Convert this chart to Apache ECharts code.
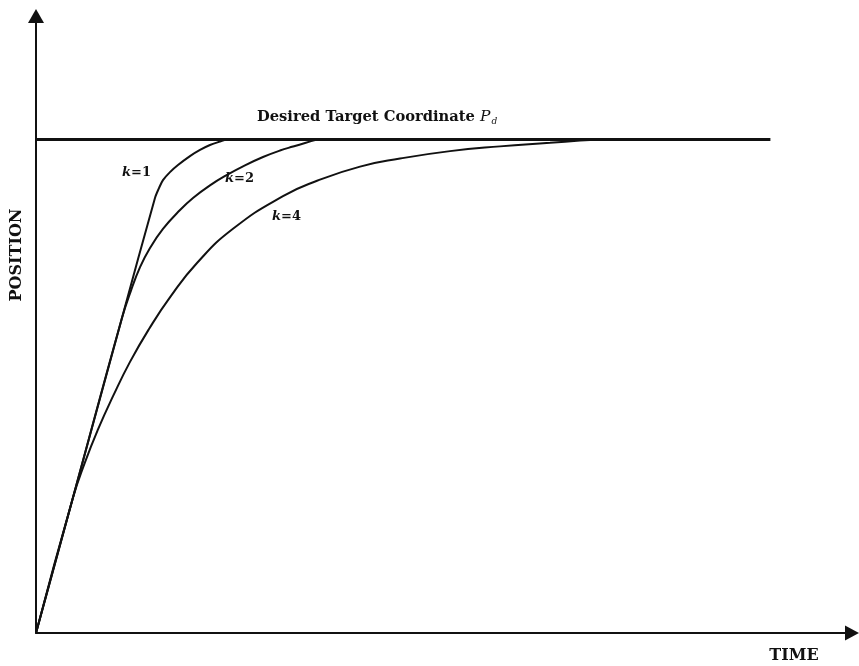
<!DOCTYPE html>
<html>
<head>
<meta charset="utf-8">
<style>
  html, body { margin: 0; padding: 0; background: #fff; }
  #chart { width: 859px; height: 666px; }
</style>
<script src="https://cdn.jsdelivr.net/npm/echarts@6/dist/echarts.min.js"></script>
</head>
<body>
<div id="chart"></div>
<script>
// Axis ranges (arbitrary units)
const timeRange = [0, 100];
const positionRange = [0, 100];

// Desired target coordinate P_d and the time span of its line
const targetPosition = 80;
const targetTime = [0, 90];

// Position responses for the three gains
const k1Time = [0, 4.5, 10.5, 14.58, 15.07, 15.56, 16.42, 17.4, 18.87, 20.1, 21.32, 22.55, 23.4];
const k1Pos  = [0, 21.8, 50.9, 70.5, 72.1, 73.4, 74.7, 75.85, 77.3, 78.3, 79.1, 79.65, 80];

const k2Time = [0, 4.5, 10.5, 11.64, 12.75, 13.97, 15.56, 17.65, 19.24, 21.32, 23.41, 25.61, 27.82, 29.9, 31.5, 32.97, 34.56];
const k2Pos  = [0, 21.8, 50.9, 55.5, 59.3, 62.4, 65.5, 68.55, 70.5, 72.55, 74.25, 75.8, 77.15, 78.2, 78.85, 79.42, 80];

const k4Time = [0, 4.5, 6.0, 7.6, 9.44, 11.52, 13.85, 16.48, 19.73, 24.14, 30.27, 34.44, 39.71, 44.61, 50.74, 56.86, 62.99, 66.67, 69.12];
const k4Pos  = [0, 21.8, 27.65, 33.0, 38.38, 43.94, 49.27, 54.51, 59.97, 65.51, 70.81, 73.29, 75.59, 76.89, 78.1, 78.87, 79.45, 79.81, 80];

// Text
const xName = 'TIME';
const yName = 'POSITION';
const targetTitle = 'Desired Target Coordinate ';
const curveLabels = ['1', '2', '4'];

function pairs(xs, ys) { return xs.map((x, i) => [x, ys[i]]); }

const ink = '#111';
const serif = '"DejaVu Serif", "Liberation Serif", serif';

const chart = echarts.init(document.getElementById('chart'), null, { renderer: 'canvas' });

const axisCommon = {
  type: 'value',
  axisTick: { show: false },
  axisLabel: { show: false },
  splitLine: { show: false },
  axisLine: {
    show: true,
    onZero: true,
    symbol: ['none', 'triangle'],
    lineStyle: { color: ink, width: 2 }
  }
};

function curve(name, xs, ys, smoothness) {
  return {
    name: name,
    type: 'line',
    data: pairs(xs, ys),
    showSymbol: false,
    smooth: smoothness,
    lineStyle: { color: ink, width: 2 },
    silent: true,
    z: 3
  };
}

function kLabel(x, y, digit) {
  return {
    type: 'text',
    x: x, y: y,
    style: {
      text: '{k|k}{n|=' + digit + '}',
      verticalAlign: 'middle',
      rich: {
        k: { font: 'italic bold 13px ' + serif, fill: ink },
        n: { font: 'bold 13px ' + serif, fill: ink }
      }
    }
  };
}

chart.setOption({
  backgroundColor: '#fff',
  animation: false,
  grid: { left: 36, right: 7, top: 16, bottom: 33 },
  xAxis: Object.assign({}, axisCommon, {
    min: timeRange[0], max: timeRange[1],
    axisLine: Object.assign({}, axisCommon.axisLine, { symbolSize: [15, 14] })
  }),
  yAxis: Object.assign({}, axisCommon, {
    min: positionRange[0], max: positionRange[1],
    axisLine: Object.assign({}, axisCommon.axisLine, { symbolSize: [16, 14] })
  }),
  series: [
    {
      name: 'target',
      type: 'line',
      data: targetTime.map(t => [t, targetPosition]),
      showSymbol: false,
      lineStyle: { color: ink, width: 3 },
      silent: true,
      z: 4
    },
    curve('k=1', k1Time, k1Pos, 0.3),
    curve('k=2', k2Time, k2Pos, 0.45),
    curve('k=4', k4Time, k4Pos, 0.5)
  ],
  graphic: [
    {
      type: 'text',
      x: 257, y: 117,
      style: {
        text: '{t|' + targetTitle + '}{p|P}{d|d}',
        verticalAlign: 'middle',
        rich: {
          t: { font: 'bold 14.7px ' + serif, fill: ink },
          p: { font: 'italic 15.5px ' + serif, fill: ink },
          d: { font: 'italic 9px ' + serif, fill: ink, padding: [10, 0, 0, 1] }
        }
      }
    },
    kLabel(122, 173, curveLabels[0]),
    kLabel(225, 178.5, curveLabels[1]),
    kLabel(272, 216.5, curveLabels[2]),
    {
      type: 'text',
      x: 16.5, y: 255,
      rotation: Math.PI / 2,
      style: {
        text: yName,
        font: 'bold 16px ' + serif,
        fill: ink,
        align: 'center',
        verticalAlign: 'middle'
      }
    },
    {
      type: 'text',
      x: 794, y: 656,
      style: {
        text: xName,
        font: 'bold 16px ' + serif,
        fill: ink,
        align: 'center',
        verticalAlign: 'middle'
      }
    }
  ]
});
</script>
</body>
</html>
